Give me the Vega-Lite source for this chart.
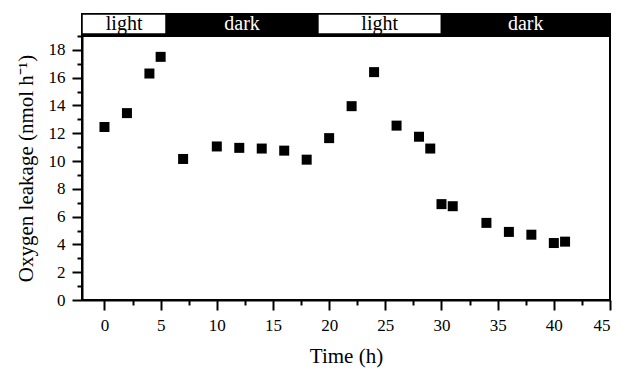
{
  "$schema": "https://vega.github.io/schema/vega-lite/v6.json",
  "padding": {"left": 14, "top": 12, "right": 5, "bottom": 5},
  "background": "white",
  "config": {
    "font": "Liberation Serif",
    "view": {"stroke": "black", "strokeWidth": 2},
    "axis": {"grid": false, "domainColor": "black", "domainWidth": 2, "tickColor": "black", "tickWidth": 2, "labelColor": "black", "titleColor": "black", "labelFont": "Liberation Serif", "titleFont": "Liberation Serif", "labelFontSize": 17, "titleFontSize": 21, "titleFontWeight": "normal"}
  },
  "spacing": -5,
  "datasets": {
    "phases": [
      {"phase": "light", "start": -2, "end": 5.5, "mid": 1.75},
      {"phase": "dark", "start": 5.5, "end": 19, "mid": 12.25},
      {"phase": "light", "start": 19, "end": 30, "mid": 24.5},
      {"phase": "dark", "start": 30, "end": 45, "mid": 37.5}
    ],
    "points": [
      {"time": 0, "leak": 12.45},
      {"time": 2, "leak": 13.45},
      {"time": 4, "leak": 16.3},
      {"time": 5, "leak": 17.5},
      {"time": 7, "leak": 10.15},
      {"time": 10, "leak": 11.05},
      {"time": 12, "leak": 10.95},
      {"time": 14, "leak": 10.9},
      {"time": 16, "leak": 10.75},
      {"time": 18, "leak": 10.1},
      {"time": 20, "leak": 11.65},
      {"time": 22, "leak": 13.95},
      {"time": 24, "leak": 16.4},
      {"time": 26, "leak": 12.55},
      {"time": 28, "leak": 11.75},
      {"time": 29, "leak": 10.9},
      {"time": 30, "leak": 6.9},
      {"time": 31, "leak": 6.75},
      {"time": 34, "leak": 5.55},
      {"time": 36, "leak": 4.9},
      {"time": 38, "leak": 4.7},
      {"time": 40, "leak": 4.1},
      {"time": 41, "leak": 4.2}
    ]
  },
  "vconcat": [
    {
      "width": 528,
      "height": 20,
      "data": {"name": "phases"},
      "layer": [
        {
          "mark": {"type": "rect", "stroke": "black", "strokeWidth": 1.5},
          "encoding": {
            "x": {"field": "start", "type": "quantitative", "scale": {"domain": [-2, 45], "nice": false, "zero": false}, "axis": null},
            "x2": {"field": "end"},
            "fill": {"condition": {"test": "datum.phase === 'dark'", "value": "black"}, "value": "white"}
          }
        },
        {
          "mark": {"type": "text", "font": "Liberation Serif", "fontSize": 20, "baseline": "middle", "align": "center"},
          "encoding": {
            "x": {"field": "mid", "type": "quantitative", "scale": {"domain": [-2, 45], "nice": false, "zero": false}, "axis": null},
            "text": {"field": "phase"},
            "color": {"condition": {"test": "datum.phase === 'dark'", "value": "white"}, "value": "black"}
          }
        }
      ]
    },
    {
      "width": 528,
      "height": 264,
      "data": {"name": "points"},
      "resolve": {"axis": {"x": "independent", "y": "independent"}},
      "layer": [
        {
          "mark": {"type": "point", "shape": "square", "filled": true, "size": 100, "color": "black", "opacity": 1},
          "encoding": {
            "x": {"field": "time", "type": "quantitative", "scale": {"domain": [-2, 45], "nice": false, "zero": false},
                  "axis": {"orient": "bottom", "title": "Time (h)", "values": [0, 5, 10, 15, 20, 25, 30, 35, 40, 45], "tickSize": 10, "labelPadding": 7, "titlePadding": 12}},
            "y": {"field": "leak", "type": "quantitative", "scale": {"domain": [0, 19], "nice": false},
                  "axis": {"orient": "left", "title": "Oxygen leakage (nmol h⁻¹)", "values": [0, 2, 4, 6, 8, 10, 12, 14, 16, 18], "tickSize": 10, "labelPadding": 7, "titlePadding": 12}}
          }
        },
        {
          "mark": {"type": "point", "opacity": 0},
          "encoding": {
            "x": {"field": "time", "type": "quantitative", "scale": {"domain": [-2, 45], "nice": false, "zero": false},
                  "axis": {"orient": "bottom", "title": null, "values": [2.5, 7.5, 12.5, 17.5, 22.5, 27.5, 32.5, 37.5, 42.5], "labels": false, "domain": false, "tickSize": 5}},
            "y": {"field": "leak", "type": "quantitative", "scale": {"domain": [0, 19], "nice": false},
                  "axis": {"orient": "left", "title": null, "values": [1, 3, 5, 7, 9, 11, 13, 15, 17, 19], "labels": false, "domain": false, "tickSize": 5}}
          }
        }
      ]
    }
  ]
}
